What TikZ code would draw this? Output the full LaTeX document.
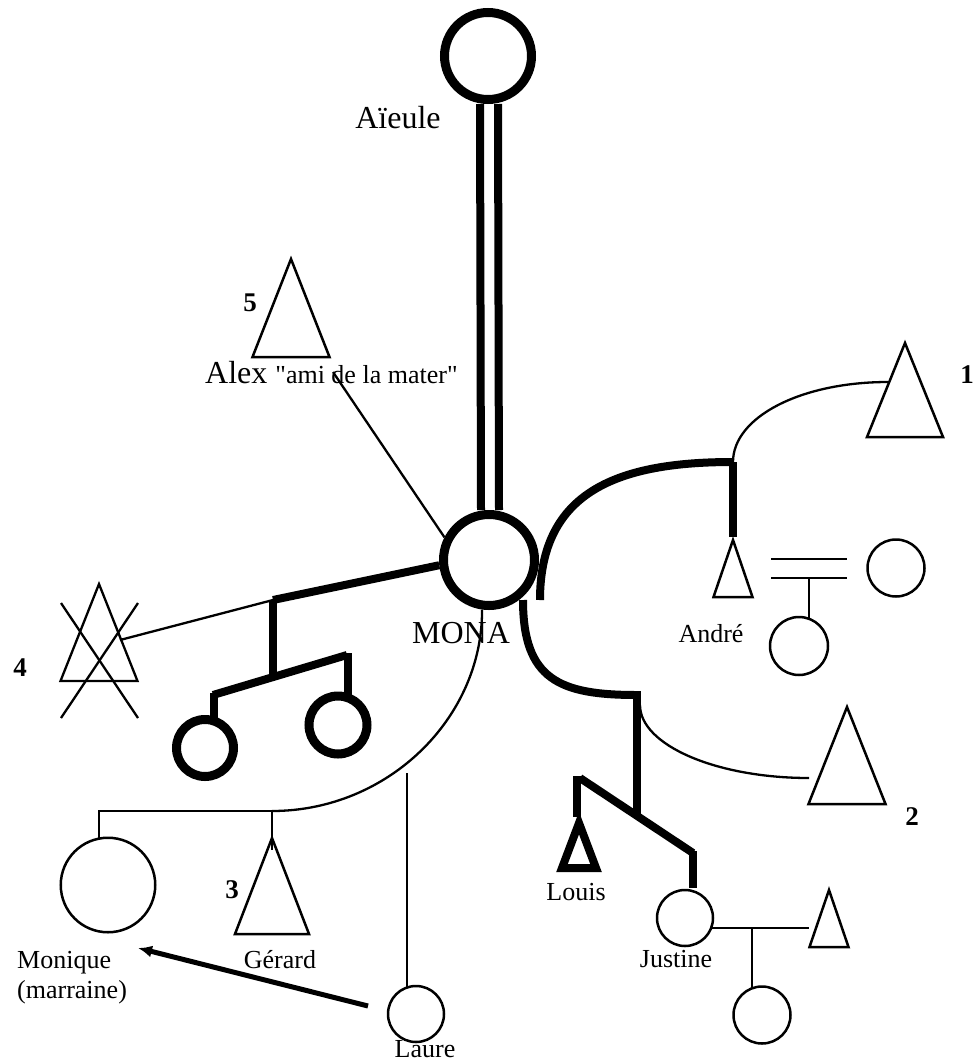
\documentclass[tikz,border=0pt]{standalone}
\usepackage{fontspec}
\setmainfont{Liberation Serif}
\usetikzlibrary{arrows.meta,calc}
\font\qf="Liberation Serif" at 26pt
\newcommand\tri[6]{\coordinate (#1) at (#2,#3); \draw[#6] (#1) -- ++(-#4,#5) -- ++(2*#4,0) -- cycle;}
\begin{document}
\begin{tikzpicture}[x=1pt,y=-1pt,
  heavy/.style={line width=8pt},
  fine/.style={line width=2.3pt},
  outl/.style={line width=2.5pt},
  bigring/.style={circle,draw,line width=9pt,inner sep=0pt,minimum size=#1},
  ring/.style={circle,draw,line width=2.5pt,inner sep=0pt,minimum size=#1},
  big/.style={font=\fontsize{32pt}{36pt}\selectfont, inner sep=0pt},
  small/.style={font=\fontsize{26pt}{30pt}\selectfont, inner sep=0pt},
  num/.style={font=\fontsize{27pt}{30pt}\selectfont\bfseries, inner sep=0pt},
]
\useasboundingbox (0,0) rectangle (976,1063);
\fill[white] (0,0) rectangle (976,1063);

% Aieule and MONA
\node[bigring=87pt] (aieule) at (488,56) {};
\node[big,anchor=base] (aieuleL) at (398,128) {Aïeule};
\node[bigring=91pt] (mona) at (489,560) {};
\node[big,anchor=base] (monaL) at (461,643) {MONA};
\draw[heavy] ([xshift=-8pt]aieule.south) -- ([xshift=-8pt]mona.north);
\draw[heavy] ([xshift=10pt]aieule.south) -- ([xshift=10pt]mona.north);

% Alex (5)
\tri{alex}{291}{259}{38.5}{98}{outl}
\node[num] (n5) at (250,303) {5};
\node[anchor=base west, inner sep=0pt] (alexL) at (205,383) {\fontsize{32pt}{36pt}\selectfont Alex {\qf "ami de la mater"}};
\coordinate (alexline) at (333,372);
\draw[fine] (alexline) -- (mona.153);

% Andre branch (1)
\coordinate (mArcA) at (540,600);
\coordinate (andreTop) at (733,462);
\coordinate (andreDrop) at (733,537);
\draw[heavy] (mArcA) .. controls (540,490) and (620,462) .. (andreTop);
\draw[heavy] (andreTop) -- (andreDrop);
\tri{andre}{733}{540}{19.5}{57}{outl}
\node[small,anchor=base] (andreL) at (711,642) {André};
\coordinate (t1side) at (888,382);
\draw[fine] (andreTop) .. controls (733,417) and (801,382) .. (t1side);
\tri{t1}{905}{343}{38}{94}{outl}
\node[num] (n1) at (967,375) {1};
\coordinate (mA1) at (771,559);
\coordinate (mA2) at (847,559);
\coordinate (mB1) at (771,578);
\coordinate (mB2) at (847,578);
\coordinate (mAc) at (809,578);
\draw[outl] (mA1) -- (mA2);
\draw[outl] (mB1) -- (mB2);
\node[ring=57pt] (wifeA) at (896,568) {};
\node[ring=58pt] (childA) at (799,646) {};
\draw[outl] (mAc) -- (809,619);

% left branch (4)
\coordinate (lj) at (273,600);
\coordinate (ljb) at (273,677);
\draw[heavy] (mona.186) -- (lj);
\draw[heavy] (lj) -- (ljb);
\coordinate (sl) at (213,695);
\coordinate (sr) at (347,655);
\draw[heavy] (sl) -- (sr);
\node[bigring=57pt] (lc1) at (205,748) {};
\node[bigring=58pt] (lc2) at (338,725) {};
\draw[heavy] (214,693) -- (214,721);
\draw[heavy] (348,653) -- (348,698);
\tri{t4}{99}{584}{38.5}{97}{fine}
\draw[fine] (61,603) -- (138,718);
\draw[fine] (138,603) -- (61,718);
\coordinate (t4side) at (120,640);
\draw[fine] (t4side) -- (lj);
\node[num] (n4) at (20,668) {4};

% Gerard branch (3)
\coordinate (gj) at (272,811);
\draw[fine] (mona.-98) .. controls (482.7,718) and (388,811) .. (gj);
\coordinate (mq) at (99,838);
\draw[fine] (mq) |- (gj);
\draw[fine] (gj) -- (272,850);
\node[ring=94.5pt] (monique) at (108,885) {};
\tri{gerard}{272}{838}{37}{96}{outl}
\node[num] (n3) at (232,890) {3};
\node[small,anchor=base] (gerardL) at (280,968) {Gérard};
\node[small,anchor=base west] (moniqueL) at (17,968) {Monique};
\node[small,anchor=base west] (marraineL) at (17,998) {(marraine)};

% Laure
\node[ring=56pt] (laure) at (416,1014) {};
\coordinate (lt) at (407,773);
\draw[fine] (lt) -- (407,987.5);
\node[small,anchor=base] (laureL) at (425,1057) {Laure};
\coordinate (arS) at (368,1006);
\coordinate (arE) at (138,948);
\draw[line width=5pt, -{Latex[length=14pt,width=12pt]}] (arS) -- (arE);

% lower right branch (2)
\coordinate (mArcB) at (523,600);
\coordinate (rj) at (637,695);
\draw[heavy] (mArcB) .. controls (523,680) and (560,695) .. (rj);
\draw[heavy] (637,691) -- (637,816);
\draw[heavy] (580,778) -- (693,853);
\draw[heavy] (577,776) -- (577,817);
\draw[heavy] (693,851) -- (693,888);
\tri{louis}{579}{823}{17}{45}{heavy}
\node[small,anchor=base] (louisL) at (576,900) {Louis};
\node[ring=56pt] (justine) at (685,918) {};
\node[small,anchor=base] (justineL) at (676,967) {Justine};
\draw[fine] (711,928) -- (809,928);
\tri{tj}{829}{890}{19.5}{57}{outl}
\draw[fine] (752,928) -- (752,988);
\node[ring=57pt] (childJ) at (762,1015) {};
\coordinate (t2side) at (809,778);
\draw[fine] (640,705) .. controls (640,745) and (716,778) .. (t2side);
\tri{t2}{847}{707}{38.5}{97}{outl}
\node[num] (n2) at (912,817) {2};
\end{tikzpicture}
\end{document}
